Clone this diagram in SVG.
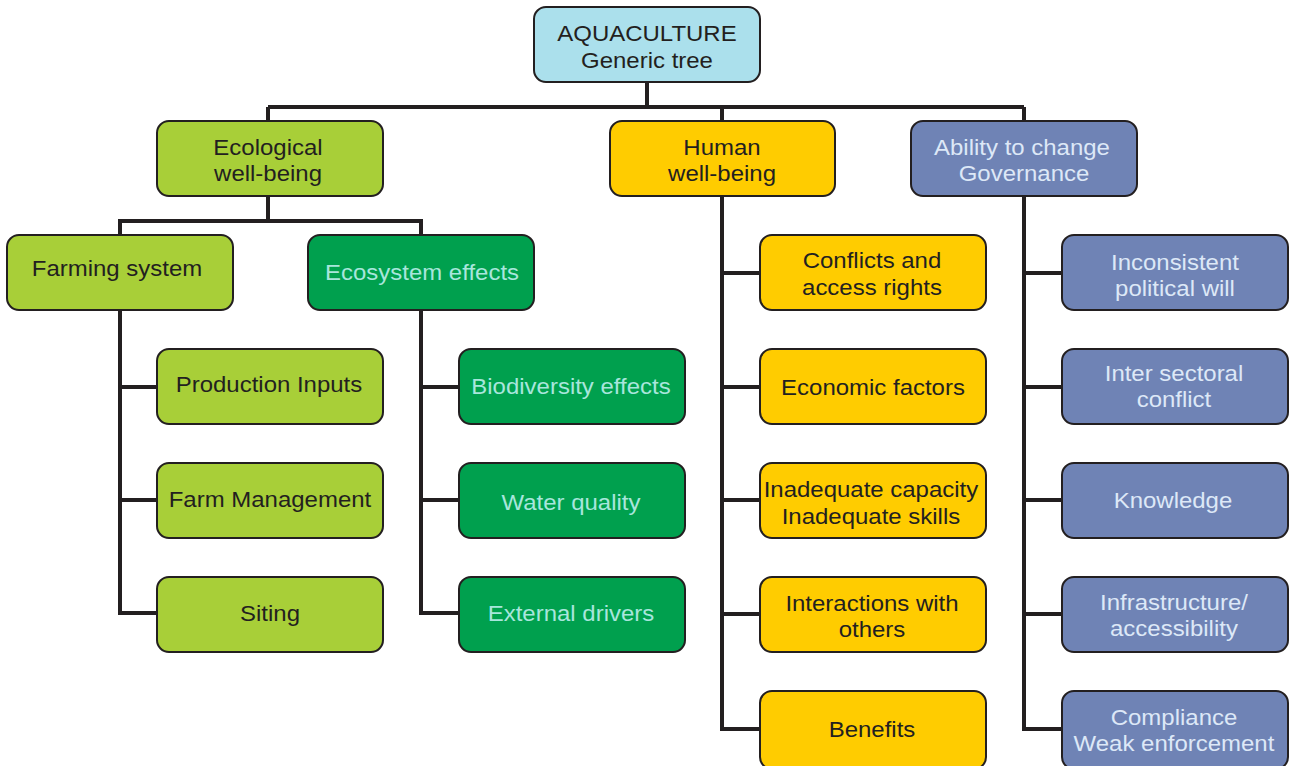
<svg xmlns="http://www.w3.org/2000/svg" width="1292" height="766" viewBox="0 0 1292 766">
<style>
.box{stroke:#231f20;stroke-width:2}
.root{fill:#abe0ec}
.lime{fill:#a8cf38}
.dg{fill:#00a04e}
.yel{fill:#ffcc00}
.blu{fill:#6f83b5}
text{font-family:"Liberation Sans",Arial,sans-serif;font-size:22px;text-anchor:middle;transform-box:fill-box;transform-origin:center;transform:scaleX(1.09)}
.dk{fill:#231f20}
.lt{fill:#a8e6dc}
.lb{fill:#dde8f7}
.con{fill:none;stroke:#231f20;stroke-width:4}
</style>
<g id="connectors" class="con">
<path d="M647 82V107M268 107H1024M268 107V121M722 107V121M1024 107V121"/>
<path d="M268 196V221M120 235V221H421V235"/>
<path d="M120 310V613H157M120 387H157M120 500H157"/>
<path d="M421 310V613H459M421 387H459M421 500H459"/>
<path d="M722 196V729H760M722 273H760M722 387H760M722 500H760M722 614H760"/>
<path d="M1024 196V729H1062M1024 273H1062M1024 387H1062M1024 500H1062M1024 614H1062"/>
</g>
<g id="root"><rect class="box root" x="534" y="7" width="226" height="75" rx="12"/><text class="dk" x="647" y="41">AQUACULTURE</text><text class="dk" x="647" y="68">Generic tree</text></g>
<g id="ecological"><rect class="box lime" x="157" y="121" width="226" height="75" rx="12"/><text class="dk" x="268" y="155">Ecological</text><text class="dk" x="268" y="181">well-being</text></g>
<g id="human"><rect class="box yel" x="610" y="121" width="225" height="75" rx="12"/><text class="dk" x="722" y="155">Human</text><text class="dk" x="722" y="181">well-being</text></g>
<g id="ability"><rect class="box blu" x="911" y="121" width="226" height="75" rx="12"/><text class="lb" x="1022" y="155">Ability to change</text><text class="lb" x="1024" y="181">Governance</text></g>
<g id="farming"><rect class="box lime" x="7" y="235" width="226" height="75" rx="12"/><text class="dk" x="117" y="276">Farming system</text></g>
<g id="ecosystem"><rect class="box dg" x="308" y="235" width="226" height="75" rx="12"/><text class="lt" x="422" y="280">Ecosystem effects</text></g>
<g id="production"><rect class="box lime" x="157" y="349" width="226" height="75" rx="12"/><text class="dk" x="269" y="392">Production Inputs</text></g>
<g id="farmmgmt"><rect class="box lime" x="157" y="463" width="226" height="75" rx="12"/><text class="dk" x="270" y="507">Farm Management</text></g>
<g id="siting"><rect class="box lime" x="157" y="577" width="226" height="75" rx="12"/><text class="dk" x="270" y="621">Siting</text></g>
<g id="biodiversity"><rect class="box dg" x="459" y="349" width="226" height="75" rx="12"/><text class="lt" x="571" y="394">Biodiversity effects</text></g>
<g id="water"><rect class="box dg" x="459" y="463" width="226" height="75" rx="12"/><text class="lt" x="571" y="510">Water quality</text></g>
<g id="external"><rect class="box dg" x="459" y="577" width="226" height="75" rx="12"/><text class="lt" x="571" y="621">External drivers</text></g>
<g id="conflicts"><rect class="box yel" x="760" y="235" width="226" height="75" rx="12"/><text class="dk" x="872" y="268">Conflicts and</text><text class="dk" x="872" y="295">access rights</text></g>
<g id="economic"><rect class="box yel" x="760" y="349" width="226" height="75" rx="12"/><text class="dk" x="873" y="395">Economic factors</text></g>
<g id="inadequate"><rect class="box yel" x="760" y="463" width="226" height="75" rx="12"/><text class="dk" x="871" y="497">Inadequate capacity</text><text class="dk" x="871" y="524">Inadequate skills</text></g>
<g id="interactions"><rect class="box yel" x="760" y="577" width="226" height="75" rx="12"/><text class="dk" x="872" y="611">Interactions with</text><text class="dk" x="872" y="637">others</text></g>
<g id="benefits"><rect class="box yel" x="760" y="691" width="226" height="78" rx="12"/><text class="dk" x="872" y="737">Benefits</text></g>
<g id="inconsistent"><rect class="box blu" x="1062" y="235" width="226" height="75" rx="12"/><text class="lb" x="1175" y="270">Inconsistent</text><text class="lb" x="1175" y="296">political will</text></g>
<g id="intersectoral"><rect class="box blu" x="1062" y="349" width="226" height="75" rx="12"/><text class="lb" x="1174" y="381">Inter sectoral</text><text class="lb" x="1174" y="407">conflict</text></g>
<g id="knowledge"><rect class="box blu" x="1062" y="463" width="226" height="75" rx="12"/><text class="lb" x="1173" y="508">Knowledge</text></g>
<g id="infrastructure"><rect class="box blu" x="1062" y="577" width="226" height="75" rx="12"/><text class="lb" x="1174" y="610">Infrastructure/</text><text class="lb" x="1174" y="636">accessibility</text></g>
<g id="compliance"><rect class="box blu" x="1062" y="691" width="226" height="78" rx="12"/><text class="lb" x="1174" y="725">Compliance</text><text class="lb" x="1174" y="751">Weak enforcement</text></g>
</svg>
